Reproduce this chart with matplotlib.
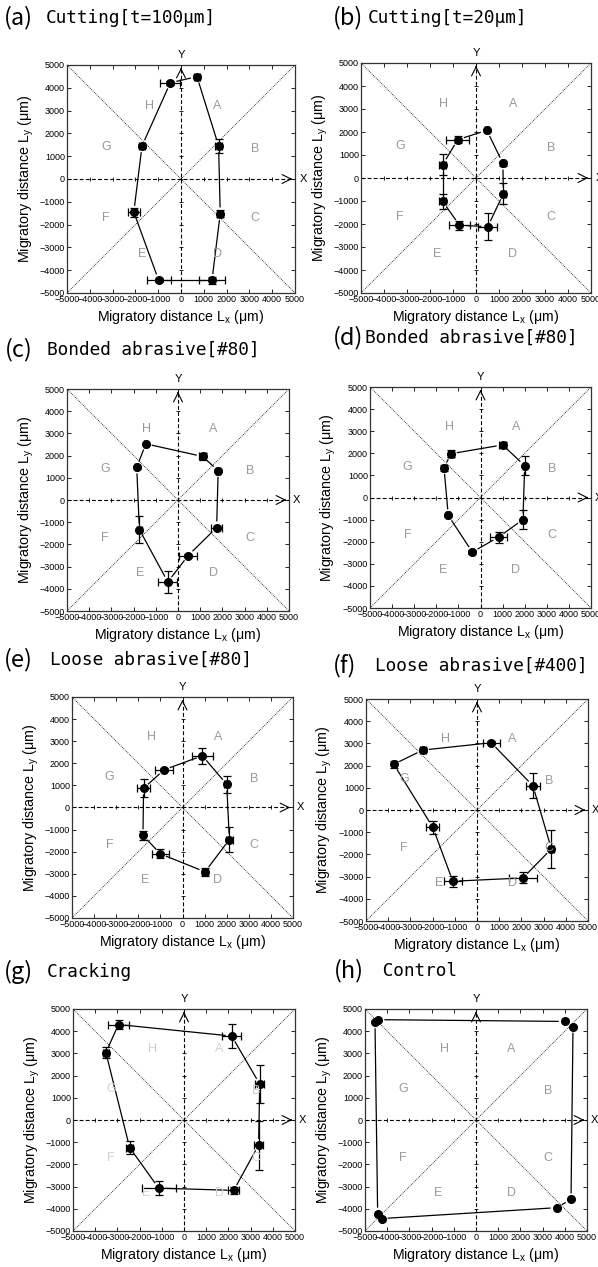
import numpy as np
import matplotlib
matplotlib.use("Agg")
import matplotlib.pyplot as plt

plt.rcParams["font.family"] = ["Liberation Sans", "DejaVu Sans"]
plt.rcParams["mathtext.fontset"] = "custom"
plt.rcParams["mathtext.rm"] = "Liberation Sans"
plt.rcParams["mathtext.it"] = "Liberation Sans:italic"

# ── Data (order A..H) ────────────────────────────────────────────────────────
regions = ["A", "B", "C", "D", "E", "F", "G", "H"]
ticks = [-5000, -4000, -3000, -2000, -1000, 0, 1000, 2000, 3000, 4000, 5000]

a_x = [700, 1650, 1720, 1360, -980, -2070, -1710, -470]
a_y = [4490, 1450, -1520, -4440, -4440, -1450, 1450, 4220]
a_xerr = [150, 150, 120, 580, 520, 250, 150, 430]
a_yerr = [80, 290, 150, 150, 80, 200, 100, 100]

b_x = [470, 1170, 1190, 510, -720, -1450, -1450, -790]
b_y = [2070, 640, -680, -2120, -2050, -1020, 580, 1670]
b_xerr = [100, 100, 100, 410, 460, 150, 150, 500]
b_yerr = [80, 100, 470, 580, 200, 330, 450, 150]

c_x = [1110, 1810, 1740, 460, -460, -1740, -1860, -1450]
c_y = [1960, 1320, -1240, -2500, -3690, -1330, 1470, 2530]
c_xerr = [150, 80, 250, 400, 430, 100, 60, 60]
c_yerr = [150, 80, 80, 60, 490, 620, 60, 60]

d_x = [1000, 2000, 1920, 820, -370, -1460, -1650, -1340]
d_y = [2380, 1440, -1000, -1790, -2470, -810, 1340, 1980]
d_xerr = [150, 80, 80, 380, 80, 80, 100, 150]
d_yerr = [150, 420, 430, 250, 80, 80, 150, 150]

e_x = [900, 2000, 2120, 1020, -1000, -1790, -1760, -830]
e_y = [2340, 1050, -1450, -2910, -2100, -1260, 870, 1710]
e_xerr = [480, 120, 150, 150, 380, 100, 300, 420]
e_yerr = [350, 380, 560, 180, 200, 200, 400, 80]

f_x = [640, 2520, 3350, 2070, -1090, -1990, -3750, -2440]
f_y = [3030, 1090, -1750, -3060, -3210, -780, 2060, 2700]
f_xerr = [380, 300, 100, 620, 400, 300, 100, 150]
f_yerr = [60, 560, 850, 250, 250, 300, 150, 80]

g_x = [2150, 3410, 3360, 2240, -1140, -2450, -3520, -2950]
g_y = [3780, 1620, -1130, -3170, -3070, -1240, 3040, 4300]
g_xerr = [430, 200, 200, 250, 770, 150, 150, 480]
g_yerr = [540, 850, 1100, 150, 320, 300, 250, 200]

h_x = [4000, 4370, 4280, 3630, -4250, -4430, -4550, -4400]
h_y = [4440, 4210, -3580, -3950, -4440, -4220, 4400, 4520]
h_xerr = [0, 0, 0, 0, 0, 0, 0, 0]
h_yerr = [0, 0, 0, 0, 0, 0, 0, 0]

panel_letters = ["(a)", "(b)", "(c)", "(d)", "(e)", "(f)", "(g)", "(h)"]
panel_names = ["Cutting[t=100μm]", "Cutting[t=20μm]", "Bonded abrasive[#80]",
               "Bonded abrasive[#80]", "Loose abrasive[#80]", "Loose abrasive[#400]",
               "Cracking", " Control"]
series = [(a_x, a_y, a_xerr, a_yerr), (b_x, b_y, b_xerr, b_yerr),
          (c_x, c_y, c_xerr, c_yerr), (d_x, d_y, d_xerr, d_yerr),
          (e_x, e_y, e_xerr, e_yerr), (f_x, f_y, f_xerr, f_yerr),
          (g_x, g_y, g_xerr, g_yerr), (h_x, h_y, h_xerr, h_yerr)]

# ── Layout (pixels: left, top, size / title positions) ───────────────────────
W, H = 598, 1267
boxes = [(67, 65, 228), (361, 63, 230), (67, 389, 222), (370, 387, 221),
         (72, 697, 221), (366, 699, 222), (73, 1009, 222), (365, 1009, 222)]
title_pos = [(4, 46, 18), (333, 368, 18), (5, 47, 350), (333, 365, 338),
             (4, 50, 660), (333, 375, 666), (4, 47, 972), (334, 372, 971)]
label_xy = {"A": (1600, 3200), "B": (3250, 1300), "C": (3250, -1700), "D": (1600, -3300),
            "E": (-1700, -3300), "F": (-3300, -1700), "G": (-3300, 1400), "H": (-1400, 3200)}

fig = plt.figure(figsize=(W / 100, H / 100), dpi=100)

for k, (xs, ys, xe, ye) in enumerate(series):
    left, top, size = boxes[k]
    ax = fig.add_axes([left / W, 1 - (top + size) / H, size / W, size / H])
    ax.set_xlim(-5000, 5000); ax.set_ylim(-5000, 5000)
    ax.set_xticks(ticks); ax.set_yticks(ticks)
    ax.tick_params(direction="in", length=3, width=0.6, labelsize=6.5,
                   top=True, right=True, pad=1.5)
    for sp in ax.spines.values():
        sp.set_linewidth(0.9); sp.set_color("#333333")

    # diagonals and centre axes
    ax.plot([-5000, 5000], [-5000, 5000], color="k", lw=0.6, dashes=(1, 1.3))
    ax.plot([-5000, 5000], [5000, -5000], color="k", lw=0.6, dashes=(1, 1.3))
    ax.plot([-5000, 5000], [0, 0], color="k", lw=0.8, dashes=(3.5, 2))
    ax.plot([0, 0], [-5000, 5000], color="k", lw=0.8, dashes=(3.5, 2))
    inner = ticks[1:-1]
    ax.plot(inner, [0] * len(inner), "|", color="k", ms=3, mew=0.6)
    ax.plot([0] * len(inner), inner, "_", color="k", ms=3, mew=0.6)
    ax.annotate("", xy=(5000, 0), xytext=(4700, 0),
                arrowprops=dict(arrowstyle="->", lw=0.8, mutation_scale=16))
    ax.annotate("", xy=(0, 5000), xytext=(0, 4700),
                arrowprops=dict(arrowstyle="->", lw=0.8, mutation_scale=16))
    ax.text(1.035, 0.5, "X", transform=ax.transAxes, ha="center", va="center", fontsize=8)
    ax.text(0.5, 1.045, "Y", transform=ax.transAxes, ha="center", va="center", fontsize=8)

    grey = "#d0d0d0" if k == 6 else "#9a9a9a"
    for r in regions:
        ax.text(*label_xy[r], r, color=grey, fontsize=9, ha="center", va="center")

    # connecting polygon, trimmed near each point
    gap = 300
    n = len(xs)
    for i in range(n):
        p0 = np.array([xs[i], ys[i]], float)
        p1 = np.array([xs[(i + 1) % n], ys[(i + 1) % n]], float)
        d = p1 - p0
        L = np.hypot(*d)
        if L > 2 * gap:
            u = d / L
            s, e = p0 + u * gap, p1 - u * gap
            ax.plot([s[0], e[0]], [s[1], e[1]], color="k", lw=0.9)

    ax.errorbar(xs, ys, xerr=xe, yerr=ye, fmt="o", color="k", ms=5.5,
                ecolor="k", elinewidth=0.9, capsize=3, capthick=0.9)

    ax.set_xlabel("Migratory distance L$_\\mathrm{x}$ (μm)", fontsize=10.2, labelpad=3)
    ax.set_ylabel("Migratory distance L$_\\mathrm{y}$ (μm)", fontsize=10.3, labelpad=3)

    xl, xn, yt = title_pos[k]
    fig.text(xl / W, 1 - yt / H, panel_letters[k], fontsize=17, va="center",
             family=["Noto Sans CJK JP", "DejaVu Sans"])
    fig.text(xn / W, 1 - yt / H, panel_names[k], fontsize=12.8, va="center",
             family=["DejaVu Sans Mono"])

fig.savefig("out.png", dpi=100)
